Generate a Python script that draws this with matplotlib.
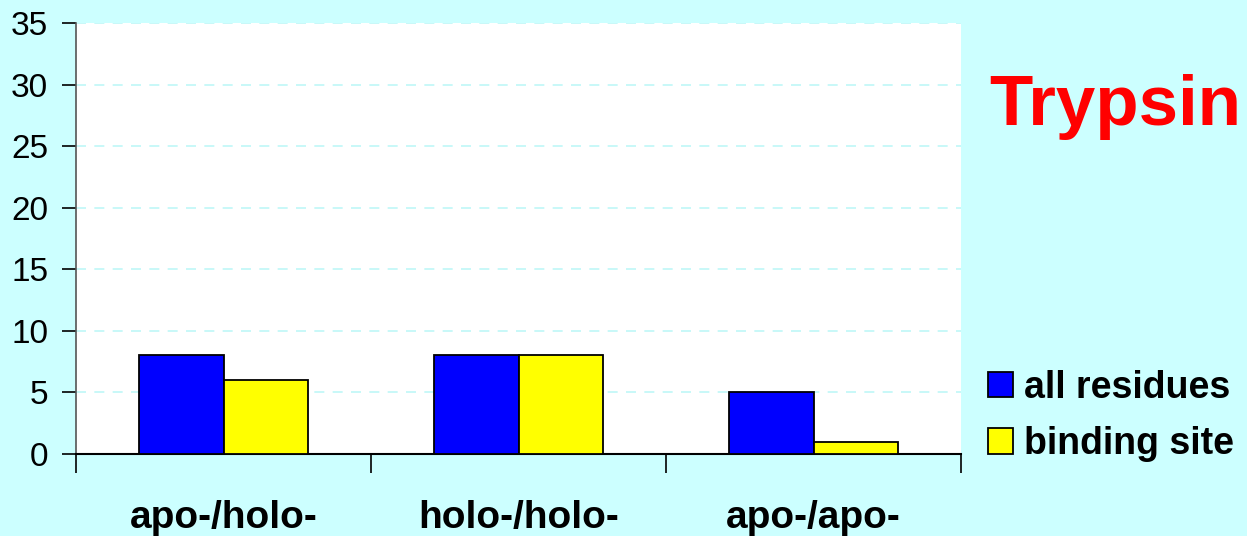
import numpy as np
import matplotlib.pyplot as plt
from matplotlib.ticker import FixedLocator

categories = ['apo-/holo-', 'holo-/holo-', 'apo-/apo-']
all_residues = [8, 8, 5]
binding_site = [6, 8, 1]
yticks = [0, 5, 10, 15, 20, 25, 30, 35]

bg = '#ccffff'
plt.rcParams['font.family'] = ['Liberation Sans', 'DejaVu Sans']

fig = plt.figure(figsize=(12.47, 5.36), dpi=100, facecolor=bg)
ax = fig.add_axes([76 / 1247, 1 - 454 / 536, 885 / 1247, 431 / 536])
ax.set_facecolor('white')

x = np.arange(len(categories))
w = 0.288
b1 = ax.bar(x - w / 2, all_residues, w, color='#0000ff', edgecolor='black',
            linewidth=1.3, label='all residues', zorder=3)
b2 = ax.bar(x + w / 2, binding_site, w, color='#ffff00', edgecolor='black',
            linewidth=1.3, label='binding site', zorder=3)

ax.set_xlim(-0.5, 2.5)
ax.set_ylim(0, 35)
ax.set_yticks(yticks)
ax.tick_params(axis='y', labelsize=24, length=10, width=1.2, pad=10)
ax.yaxis.grid(True, color='#bff7f7', linestyle=(0, (6, 5)), linewidth=1.2, zorder=0)

# group boundaries get the tick marks, labels sit at the group centres
ax.set_xticks(x)
ax.set_xticklabels(categories, fontsize=28, fontweight='bold')
ax.tick_params(axis='x', which='major', length=0, pad=33)
ax.xaxis.set_minor_locator(FixedLocator([-0.5, 0.5, 1.5, 2.5]))
ax.tick_params(axis='x', which='minor', length=14, width=1.2)

for s in ['top', 'right']:
    ax.spines[s].set_visible(False)
ax.spines['left'].set_color('#555555')
ax.spines['left'].set_linewidth(1.2)
ax.spines['bottom'].set_linewidth(1.5)

fig.text(1115 / 1247, 1 - 125 / 536, 'Trypsin', color='#ff0000', fontsize=51,
         fontweight='bold', ha='center', va='baseline')

fig.legend(handles=[b1, b2], loc='center left',
           bbox_to_anchor=(988 / 1247, 1 - 416 / 536), frameon=False,
           prop={'size': 27, 'weight': 'bold'}, handlelength=0.67,
           handleheight=0.67, handletextpad=0.3, labelspacing=0.55,
           borderaxespad=0, borderpad=0)

fig.savefig('out.png', dpi=100, facecolor=bg)
